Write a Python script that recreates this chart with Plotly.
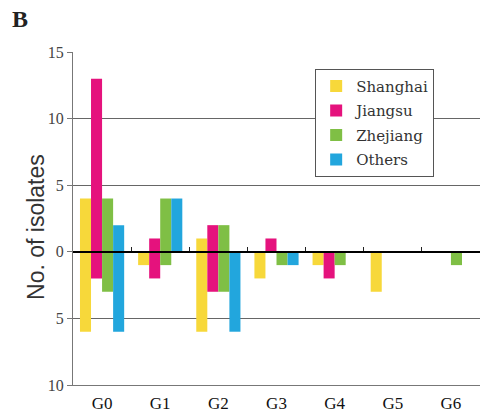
import plotly.graph_objects as go

categories = ["G0", "G1", "G2", "G3", "G4", "G5", "G6"]
regions = ["Shanghai", "Jiangsu", "Zhejiang", "Others"]
colors = ["#F7D83A", "#E5127D", "#7FBF45", "#22A6DD"]

# counts above the zero line
upper = {
    "Shanghai": [4, 0, 1, 0, 0, 0, 0],
    "Jiangsu":  [13, 1, 2, 1, 0, 0, 0],
    "Zhejiang": [4, 4, 2, 0, 0, 0, 0],
    "Others":   [2, 4, 0, 0, 0, 0, 0],
}
# counts below the zero line (magnitudes)
lower = {
    "Shanghai": [6, 1, 6, 2, 1, 3, 0],
    "Jiangsu":  [2, 2, 3, 0, 2, 0, 0],
    "Zhejiang": [3, 1, 3, 1, 1, 0, 1],
    "Others":   [6, 0, 6, 1, 0, 0, 0],
}

y_tickvals = [15, 10, 5, 0, -5, -10]
y_ticktext = ["15", "10", "5", "0", "5", "10"]

serif = "Liberation Serif"

fig = go.Figure()
for name, col in zip(regions, colors):
    up = upper[name]
    lo = lower[name]
    fig.add_trace(go.Bar(
        name=name,
        legendgroup=name,
        x=categories,
        y=[u + l for u, l in zip(up, lo)],
        base=[-l for l in lo],
        marker=dict(color=col, line=dict(width=0)),
    ))

# invisible trace so the zero-line tick axis is drawn
fig.add_trace(go.Scatter(x=categories, y=[0] * len(categories), xaxis="x2",
                         mode="none", showlegend=False, hoverinfo="skip"))

fig.update_layout(
    width=481, height=414,
    margin=dict(l=73, r=1, t=52, b=27),
    paper_bgcolor="white", plot_bgcolor="white",
    barmode="group", bargap=0.24, bargroupgap=0,
    showlegend=True,
    legend=dict(
        x=0.595, y=0.95, xanchor="left", yanchor="top",
        bgcolor="white", bordercolor="#555", borderwidth=1,
        font=dict(family="DejaVu Serif", size=15, color="#333"),
        tracegroupgap=2,
    ),
    xaxis=dict(
        type="category", range=[-0.5, 6.5],
        showline=True, linecolor="#777", linewidth=1,
        showgrid=False, ticks="", zeroline=False,
        tickfont=dict(family=serif, size=17, color="#111"),
        ticklabelstandoff=3,
    ),
    xaxis2=dict(
        type="category", range=[-0.5, 6.5], overlaying="x",
        anchor="free", position=0.4, side="bottom",
        showline=True, linecolor="black", linewidth=2,
        ticks="inside", tickson="boundaries", ticklen=4, tickcolor="#222",
        tickwidth=1, showticklabels=False, showgrid=False,
    ),
    yaxis=dict(
        range=[-10, 15], tickvals=y_tickvals, ticktext=y_ticktext,
        showline=True, linecolor="#777", linewidth=1,
        ticks="outside", ticklen=5, tickcolor="#777",
        showgrid=True, gridcolor="#666", gridwidth=1,
        zeroline=False,
        tickfont=dict(family=serif, size=16, color="#444"),
    ),
    annotations=[
        dict(
            text="<b>B</b>", xref="paper", yref="paper",
            x=-0.155, y=1.143, xanchor="left", yanchor="top",
            showarrow=False, font=dict(family=serif, size=24, color="#222"),
        ),
        dict(
            text="No. of isolates", xref="paper", yref="paper",
            x=-0.0897, y=0.476, xanchor="center", yanchor="middle",
            textangle=-90, showarrow=False,
            font=dict(family="Liberation Sans", size=23, color="#333"),
        ),
    ],
)

fig.write_html("out.html",
               config={"displayModeBar": False},
               post_script="document.body.style.margin='0';document.body.style.padding='0';")
